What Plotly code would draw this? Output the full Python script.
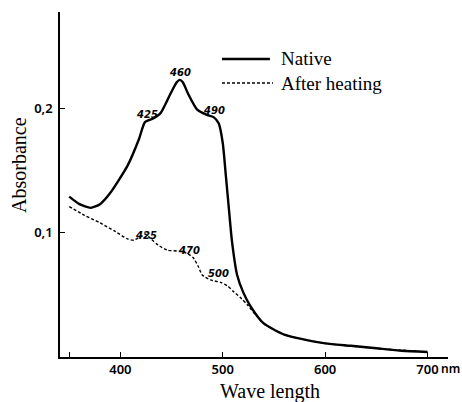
import plotly.graph_objects as go

# Native spectrum
native_wl = [350, 360, 371, 380, 390, 407, 418, 424, 432, 439, 449, 455, 458, 461, 466, 475, 484, 491, 496, 500, 503, 506, 509, 514, 520, 527, 540, 560, 580, 600, 625, 650, 675, 700]
native_abs = [0.129, 0.123, 0.120, 0.123, 0.132, 0.154, 0.175, 0.189, 0.192, 0.196, 0.212, 0.221, 0.223, 0.221, 0.212, 0.199, 0.195, 0.193, 0.188, 0.172, 0.146, 0.119, 0.093, 0.066, 0.052, 0.041, 0.027, 0.018, 0.014, 0.011, 0.009, 0.007, 0.005, 0.004]

# After heating spectrum
heat_wl = [350, 365, 380, 395, 407, 413, 420, 424, 430, 437, 446, 459, 466, 471, 476, 480, 488, 498, 505, 510, 517, 524, 532, 540, 560, 600, 650, 700]
heat_abs = [0.121, 0.114, 0.108, 0.101, 0.095, 0.094, 0.097, 0.099, 0.095, 0.090, 0.086, 0.085, 0.083, 0.080, 0.073, 0.066, 0.062, 0.060, 0.057, 0.053, 0.048, 0.042, 0.034, 0.027, 0.018, 0.011, 0.007, 0.004]

native_peaks = [425, 460, 490]
native_label_x = [426, 458.6, 491]
native_label_y = [0.1955, 0.2293, 0.1987]
heat_peaks = [425, 470, 500]
heat_label_x = [425, 467, 496]
heat_label_y = [0.0974, 0.0853, 0.0668]

x_ticks = [350, 400, 500, 600, 700]
x_ticklabels = ["", "400", "500", "600", "700"]
y_ticks = [0.1, 0.2]
y_ticklabels = ["0,1", "0,2"]

serif = "Liberation Serif"
sans = "Noto Sans"

fig = go.Figure()
fig.add_trace(go.Scatter(x=native_wl, y=native_abs, mode="lines", name="Native", showlegend=False,
                         line=dict(color="black", width=2.4, shape="spline", smoothing=0.6)))
fig.add_trace(go.Scatter(x=heat_wl, y=heat_abs, mode="lines", name="After heating", showlegend=False,
                         line=dict(color="black", width=1.4, dash="3px,2px", shape="spline", smoothing=0.6)))

for p, lx, ly in zip(native_peaks, native_label_x, native_label_y):
    fig.add_annotation(x=lx, y=ly, text="<b><i>%d</i></b>" % p, showarrow=False,
                       xanchor="center", yanchor="middle",
                       font=dict(family="DejaVu Sans", size=10, color="black"))
for p, lx, ly in zip(heat_peaks, heat_label_x, heat_label_y):
    fig.add_annotation(x=lx, y=ly, text="<b><i>%d</i></b>" % p, showarrow=False,
                       xanchor="center", yanchor="middle",
                       font=dict(family="DejaVu Sans", size=10, color="black"))

# "nm" unit after the 700 tick label
fig.add_annotation(x=700, xref="x", y=0, yref="paper", yshift=-11, xshift=11, xanchor="left", yanchor="middle",
                   text="nm", showarrow=False, font=dict(family=sans, size=12, color="black", weight=600))

# axis titles
fig.add_annotation(x=-0.1057, y=0.5565, xref="paper", yref="paper", text="Absorbance", textangle=-90,
                   xanchor="center", yanchor="middle",
                   showarrow=False, font=dict(family=serif, size=20, color="black"))
fig.add_annotation(x=0.5425, y=-0.0986, xref="paper", yref="paper", text="Wave length",
                   xanchor="center", yanchor="middle",
                   showarrow=False, font=dict(family=serif, size=20, color="black"))

# custom legend
fig.add_shape(type="line", xref="paper", yref="paper", x0=0.4175, x1=0.541, y0=0.8638, y1=0.8638,
              line=dict(color="black", width=2.4))
fig.add_shape(type="line", xref="paper", yref="paper", x0=0.4175, x1=0.549, y0=0.794, y1=0.794,
              line=dict(color="black", width=1.4, dash="3px,2px"))
fig.add_annotation(x=0.5644, y=0.8638, xref="paper", yref="paper", xanchor="left", yanchor="middle",
                   text="Native", showarrow=False, font=dict(family=serif, size=19, color="black"))
fig.add_annotation(x=0.5644, y=0.794, xref="paper", yref="paper", xanchor="left", yanchor="middle",
                   text="After heating", showarrow=False, font=dict(family=serif, size=19, color="black"))

fig.update_layout(
    width=462, height=402,
    margin=dict(l=60, r=14, t=12, b=45, autoexpand=False),
    paper_bgcolor="white", plot_bgcolor="white",
    showlegend=False,
    xaxis=dict(range=[341, 720], showline=True, linecolor="black", linewidth=1.5, showgrid=False,
               zeroline=False, tickmode="array", tickvals=x_ticks, ticktext=x_ticklabels,
               ticks="inside", ticklen=5, tickcolor="black", automargin=False,
               tickfont=dict(family=sans, size=13, color="black", weight=600)),
    yaxis=dict(range=[0.0, 0.2776], showline=True, linecolor="black", linewidth=1.5, showgrid=False,
               zeroline=False, tickmode="array", tickvals=y_ticks, ticktext=y_ticklabels,
               ticks="inside", ticklen=5, tickcolor="black", automargin=False, ticklabelstandoff=3,
               tickfont=dict(family=sans, size=13, color="black", weight=600)),
)

# remove the default page margin so the 462x402 figure fills the window exactly
fig.write_html("out.html", config={"displayModeBar": False},
               post_script="document.body.style.margin='0';")
